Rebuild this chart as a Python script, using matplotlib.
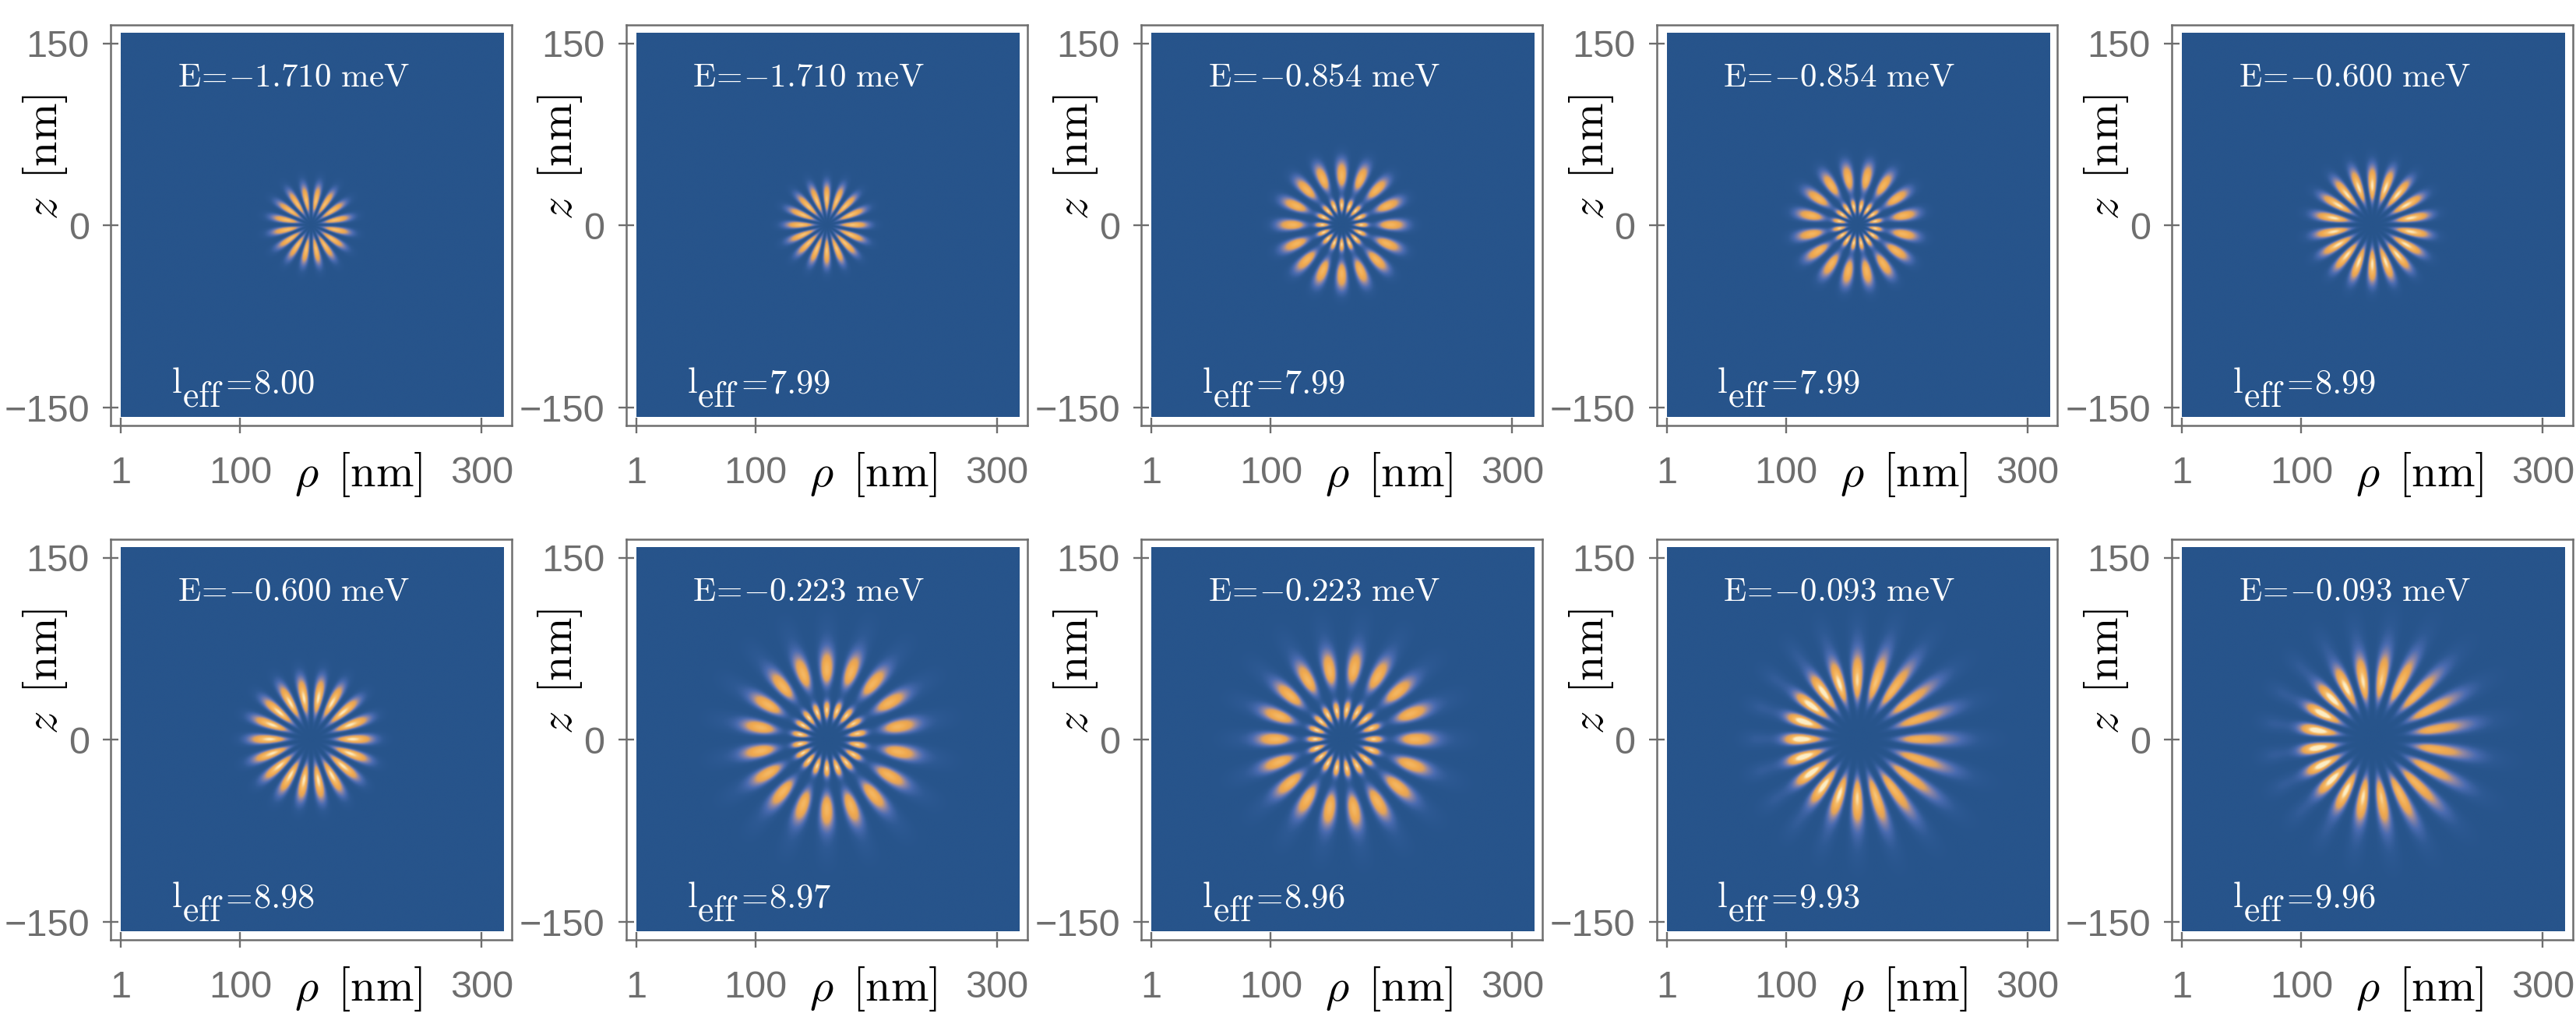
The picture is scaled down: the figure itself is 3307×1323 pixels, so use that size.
import matplotlib
matplotlib.use("Agg")
import matplotlib.pyplot as plt
import numpy as np
from matplotlib.colors import LinearSegmentedColormap

W, H = 3307, 1323

energies = ["1.710", "1.710", "0.854", "0.854", "0.600",
            "0.600", "0.223", "0.223", "0.093", "0.093"]
l_eff = ["8.00", "7.99", "7.99", "7.99", "8.99",
         "8.98", "8.97", "8.96", "9.93", "9.96"]

# number of lobe pairs and whether a lobe (cos) or a node (sin) sits on theta=0
lobe_pairs = [8, 8, 8, 8, 9, 9, 9, 9, 10, 10]
lobe_phase = ["sin", "cos", "cos", "sin", "sin", "cos", "sin", "cos", "cos", "sin"]

# radial rings, in nm
ring_radius = [[20], [21], [16, 40], [15, 38], [32], [34],
               [24, 57, 88], [24, 57, 88], [48, 84], [48, 84]]
ring_inner = [[6.5], [7], [3.6, 7], [3.6, 7], [8.5], [9],
              [5, 9, 12], [5, 9, 12], [11, 14], [11, 14]]
ring_outer = [[9], [9], [4, 9.5], [4, 9.5], [11], [11.5],
              [5, 12, 13], [5, 12, 13], [15, 16], [15, 16]]
ring_amp = [[0.88], [0.9], [0.98, 0.78], [0.98, 0.78], [1.0], [1.0],
            [0.97, 0.78, 0.06], [0.97, 0.78, 0.06], [0.95, 0.08], [0.95, 0.08]]
# brighter to the left, stretched to the right
left_tilt = [0, 0, 0, 0, 0, 0, 0.02, 0.02, 0.25, 0.25]
right_shift = [0, 0, 0, 0, 0, 0, 3, 4, 2, 3]

x_ticks = [1, 100, 300]
y_ticks = [-150, 0, 150]

center_rho = 158.5
grey = "#6e6e6e"
density_cmap = LinearSegmentedColormap.from_list("density", [
    (0.0, "#27548b"), (0.07, "#2d5993"), (0.2, "#4a6bb0"), (0.36, "#8f86a5"),
    (0.5, "#e0a25c"), (0.62, "#f0a94e"), (0.85, "#f6bd6c"), (1.0, "#fdeec6")])

plt.rcParams["font.family"] = ["Liberation Sans", "DejaVu Sans"]
plt.rcParams["mathtext.fontset"] = "cm"


def density(i, rho, z):
    x = rho - center_rho
    theta = np.arctan2(z, x)
    r = np.hypot(x, z)
    shifted = r - right_shift[i] * np.cos(theta) * (r / (r + 20))
    radial = np.zeros_like(r)
    for r0, s_in, s_out, a in zip(ring_radius[i], ring_inner[i], ring_outer[i], ring_amp[i]):
        s_out = s_out * (1 + 1.5 * left_tilt[i] * np.cos(theta))
        s = np.where(shifted < r0, s_in, s_out)
        radial += a * np.exp(-(shifted - r0) ** 2 / (2 * s ** 2))
    radial *= 1 - left_tilt[i] * np.cos(theta)
    if lobe_phase[i] == "sin":
        angular = np.sin(lobe_pairs[i] * theta) ** 2
    else:
        angular = np.cos(lobe_pairs[i] * theta) ** 2
    return radial * angular ** 1.25


def put_text(fig, x, y, s, **kw):
    fig.text(x / W, 1 - y / H, s, **kw)


def draw_panel(fig, i, left, top):
    ax = fig.add_axes([left / W, 1 - (top + 514) / H, 515 / W, 514 / H])
    rho, z = np.meshgrid(np.linspace(1, 318, 400), np.linspace(-158, 158, 400))
    ax.imshow(density(i, rho, z), extent=(1, 318, -158, 158), origin="lower",
              cmap=density_cmap, vmin=0, vmax=1, aspect="auto",
              interpolation="bicubic")
    ax.set_xlim(-7.4, 325)
    ax.set_ylim(-165, 165)
    ax.set_xticks(x_ticks)
    ax.set_yticks(y_ticks)
    ax.tick_params(axis="x", direction="inout", length=15, width=1.7, color=grey,
                   labelcolor=grey, labelsize=35, pad=20)
    ax.tick_params(axis="y", direction="inout", length=15, width=1.7, color=grey,
                   labelcolor=grey, labelsize=35, pad=12)
    for s in ax.spines.values():
        s.set_color(grey)
        s.set_linewidth(1.8)

    put_text(fig, left + 318, top + 592, r"$\rho\ \,[\mathrm{nm}]$", fontsize=42,
             ha="center", va="baseline", color="black")
    put_text(fig, left - 84, top + 169, r"$z\ \,[\mathrm{nm}]$", fontsize=42,
             ha="center", va="center", rotation=90, color="black")

    label = r"$\mathrm{E}\!=\!{-}%s\ \mathrm{meV}$" % energies[i]
    put_text(fig, left + 86, top + 79, label, fontsize=31, color="white", va="baseline")
    put_text(fig, left + 78, top + 472, r"$\mathrm{l}$", fontsize=33, color="white", va="baseline")
    put_text(fig, left + 92, top + 489, r"$\mathrm{eff}$", fontsize=33, color="white", va="baseline")
    put_text(fig, left + 146, top + 472, r"$\!=\!%s$" % l_eff[i], fontsize=32,
             color="white", va="baseline")


def main():
    fig = plt.figure(figsize=(W / 100, H / 100), dpi=100)
    for i in range(10):
        col = i % 5
        row = i // 5
        draw_panel(fig, i, 142 + 661.5 * col, 32.4 + 660 * row)
    fig.savefig("out.png", dpi=100)


if __name__ == "__main__":
    main()
